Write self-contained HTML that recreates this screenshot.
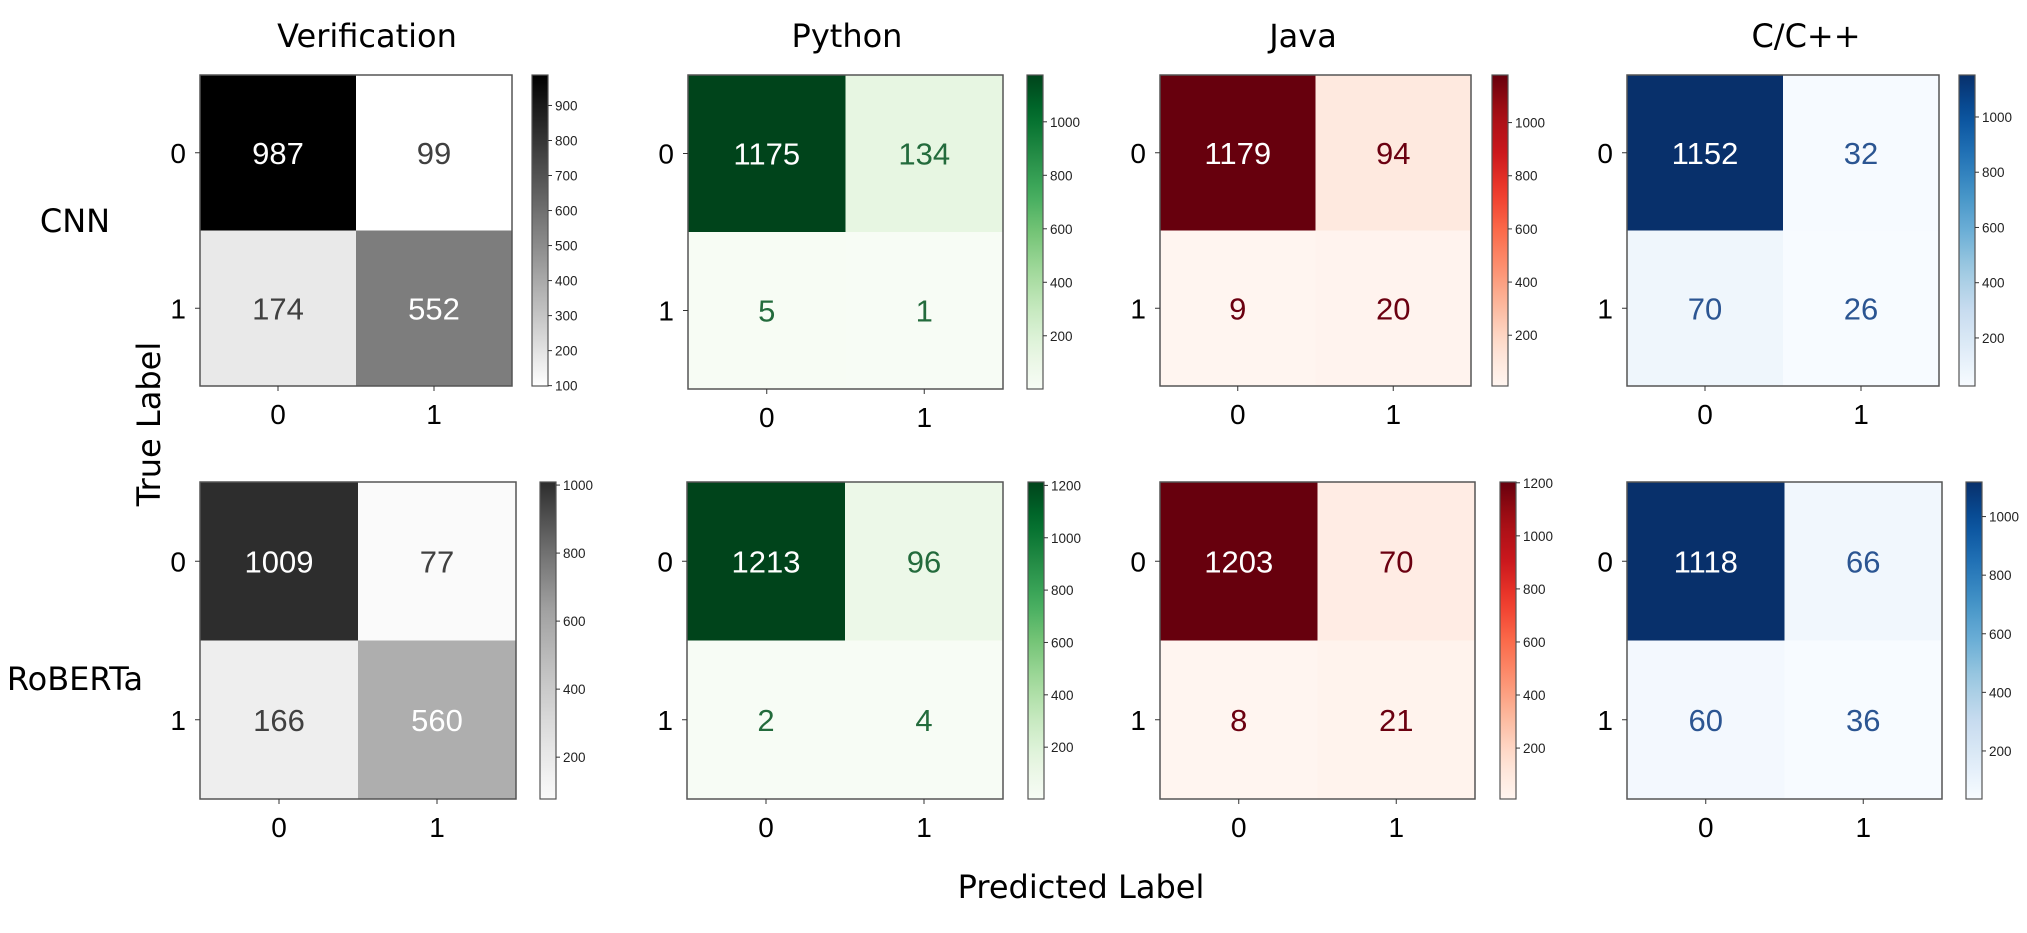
<!DOCTYPE html>
<html><head><meta charset="utf-8"><style>
html,body{margin:0;padding:0;background:#fff;width:2027px;height:933px;overflow:hidden}
svg{display:block}
</style></head><body>
<svg id="fig" width="2027" height="933" xmlns="http://www.w3.org/2000/svg" font-family="'Liberation Sans', Arial, sans-serif"></svg>
<script>
// ---- data ----
const rowNames = ['CNN', 'RoBERTa'];
const colNames = ['Verification', 'Python', 'Java', 'C/C++'];
const classLabels = ['0', '1'];
const cnnVerification = [[987, 99], [174, 552]];
const cnnPython = [[1175, 134], [5, 1]];
const cnnJava = [[1179, 94], [9, 20]];
const cnnCpp = [[1152, 32], [70, 26]];
const robertaVerification = [[1009, 77], [166, 560]];
const robertaPython = [[1213, 96], [2, 4]];
const robertaJava = [[1203, 70], [8, 21]];
const robertaCpp = [[1118, 66], [60, 36]];
const cnnVerificationTicks = [100, 200, 300, 400, 500, 600, 700, 800, 900];
const cnnPythonTicks = [200, 400, 600, 800, 1000];
const cnnJavaTicks = [200, 400, 600, 800, 1000];
const cnnCppTicks = [200, 400, 600, 800, 1000];
const robertaVerificationTicks = [200, 400, 600, 800, 1000];
const robertaPythonTicks = [200, 400, 600, 800, 1000, 1200];
const robertaJavaTicks = [200, 400, 600, 800, 1000, 1200];
const robertaCppTicks = [200, 400, 600, 800, 1000];

// ---- colormaps ----
const cmaps = {
  grayLinear: ['#ffffff', '#000000'],
  grayB: ['#fafafa', '#e0e0e0', '#c2c2c2', '#a0a0a0', '#6a6a6a', '#2d2d2d'],
  greens: ['#f7fcf5','#e5f5e0','#c7e9c0','#a1d99b','#74c476','#41ab5d','#238b45','#006d2c','#00441b'],
  reds: ['#fff5f0','#fee0d2','#fcbba1','#fc9272','#fb6a4a','#ef3b2c','#cb181d','#a50f15','#67000d'],
  blues: ['#f7fbff','#deebf7','#c6dbef','#9ecae1','#6baed6','#4292c6','#2171b5','#08519c','#08306b']
};
const textDark = {grayLinear:'#404040', grayB:'#404040', greens:'#236b3c', reds:'#6b0010', blues:'#2b5592'};
function hex2rgb(h){return [parseInt(h.slice(1,3),16),parseInt(h.slice(3,5),16),parseInt(h.slice(5,7),16)];}
function cmapColor(name, t){
  const s = cmaps[name]; t = Math.max(0, Math.min(1, t));
  const p = t*(s.length-1), i = Math.min(Math.floor(p), s.length-2), f = p-i;
  const a = hex2rgb(s[i]), b = hex2rgb(s[i+1]);
  return 'rgb(' + a.map((v,k)=>Math.round(v+(b[k]-v)*f)).join(',') + ')';
}

// ---- layout (positions only) ----
const panels = [
  {m: cnnVerification, ticks: cnnVerificationTicks, cmap: 'grayLinear', x: 200, y: 75, w: 312, h: 311, cx: 532, id: 'cnn-verification'},
  {m: cnnPython, ticks: cnnPythonTicks, cmap: 'greens', x: 688, y: 75, w: 315, h: 314, cx: 1027, id: 'cnn-python'},
  {m: cnnJava, ticks: cnnJavaTicks, cmap: 'reds', x: 1160, y: 75, w: 311, h: 311, cx: 1492, id: 'cnn-java'},
  {m: cnnCpp, ticks: cnnCppTicks, cmap: 'blues', x: 1627, y: 75, w: 312, h: 311, cx: 1959, id: 'cnn-cpp'},
  {m: robertaVerification, ticks: robertaVerificationTicks, cmap: 'grayB', x: 200, y: 482, w: 316, h: 317, cx: 540, id: 'roberta-verification'},
  {m: robertaPython, ticks: robertaPythonTicks, cmap: 'greens', x: 687, y: 482, w: 316, h: 317, cx: 1028, id: 'roberta-python'},
  {m: robertaJava, ticks: robertaJavaTicks, cmap: 'reds', x: 1160, y: 482, w: 315, h: 317, cx: 1500, id: 'roberta-java'},
  {m: robertaCpp, ticks: robertaCppTicks, cmap: 'blues', x: 1627, y: 482, w: 315, h: 317, cx: 1966, id: 'roberta-cpp'}
];
const NS = 'http://www.w3.org/2000/svg';
const svg = document.getElementById('fig');
function mk(tag, attrs, parent){
  const e = document.createElementNS(NS, tag);
  for (const k in attrs) e.setAttribute(k, attrs[k]);
  (parent||svg).appendChild(e); return e;
}
const defs = mk('defs', {});

panels.forEach((p, pi) => {
  const flat = p.m.flat();
  const vmin = Math.min(...flat), vmax = Math.max(...flat);
  const g = mk('g', {});
  
  
  const cw = p.w/2, ch = p.h/2;
  const xScale = c => p.x + c*cw;
  const yScale = r => p.y + r*ch;
  for (let r = 0; r < 2; r++) for (let c = 0; c < 2; c++) {
    const v = p.m[r][c], t = (v - vmin)/(vmax - vmin);
    const rect = mk('rect', {x: xScale(c), y: yScale(r), width: cw, height: ch, fill: cmapColor(p.cmap, t)}, g);
    
    
    const txt = mk('text', {x: xScale(c)+cw/2, y: yScale(r)+ch/2+11, 'text-anchor': 'middle', 'font-size': 31,
      fill: v > (vmin+vmax)/2 ? '#ffffff' : textDark[p.cmap]}, g);
    txt.textContent = v;
    
    
  }
  const frame = mk('rect', {x: p.x, y: p.y, width: p.w, height: p.h, fill: 'none', stroke: '#555', 'stroke-width': 1.5}, g);
  
  
  for (let i = 0; i < 2; i++) {
    const ty = yScale(i)+ch/2;
    mk('line', {x1: p.x-5, x2: p.x, y1: ty, y2: ty, stroke: '#333'}, g);
    const yl = mk('text', {x: p.x-14, y: ty+10, 'text-anchor': 'end', 'font-size': 28, fill: '#000'}, g);
    yl.textContent = classLabels[i];
    
    
    const tx = xScale(i)+cw/2;
    mk('line', {x1: tx, x2: tx, y1: p.y+p.h, y2: p.y+p.h+5, stroke: '#333'}, g);
    const xl = mk('text', {x: tx, y: p.y+p.h+38, 'text-anchor': 'middle', 'font-size': 28, fill: '#000'}, g);
    xl.textContent = classLabels[i];
    
    
  }
  const gid = 'grad' + pi;
  const lg = mk('linearGradient', {id: gid, x1: 0, y1: 1, x2: 0, y2: 0}, defs);
  for (let k = 0; k <= 20; k++) mk('stop', {offset: k/20, 'stop-color': cmapColor(p.cmap, k/20)}, lg);
  const cbW = 16;
  const cb = mk('rect', {x: p.cx, y: p.y, width: cbW, height: p.h, fill: 'url(#' + gid + ')', stroke: '#555', 'stroke-width': 1.2}, g);
  
  
  const cbScale = v => p.y + p.h - (v - vmin)/(vmax - vmin)*p.h;
  p.ticks.forEach(v => {
    const ty = cbScale(v);
    mk('line', {x1: p.cx+cbW, x2: p.cx+cbW+4, y1: ty, y2: ty, stroke: '#333'}, g);
    const tl = mk('text', {x: p.cx+cbW+7, y: ty+5, 'font-size': 13.5, fill: '#222'}, g);
    tl.textContent = v;
    
    
  });
});

const titleX = [367, 847, 1303, 1806];
colNames.forEach((n, i) => {
  const t = mk('text', {x: titleX[i], y: 47, 'text-anchor': 'middle', 'font-size': 32, fill: '#000', 'font-family': "'DejaVu Sans', sans-serif"});
  t.textContent = n;
  
  
});
const rowY = [232, 690];
rowNames.forEach((n, i) => {
  const t = mk('text', {x: 75, y: rowY[i], 'text-anchor': 'middle', 'font-size': 32, fill: '#000', 'font-family': "'DejaVu Sans', sans-serif"});
  t.textContent = n;
  
  
});
const yt = mk('text', {x: 0, y: 0, transform: 'translate(160,424) rotate(-90)', 'text-anchor': 'middle', 'font-size': 32, fill: '#000', 'font-family': "'DejaVu Sans', sans-serif"});
yt.textContent = 'True Label';


const xt = mk('text', {x: 1081, y: 898, 'text-anchor': 'middle', 'font-size': 32, fill: '#000', 'font-family': "'DejaVu Sans', sans-serif"});
xt.textContent = 'Predicted Label';


</script>
</body></html>
